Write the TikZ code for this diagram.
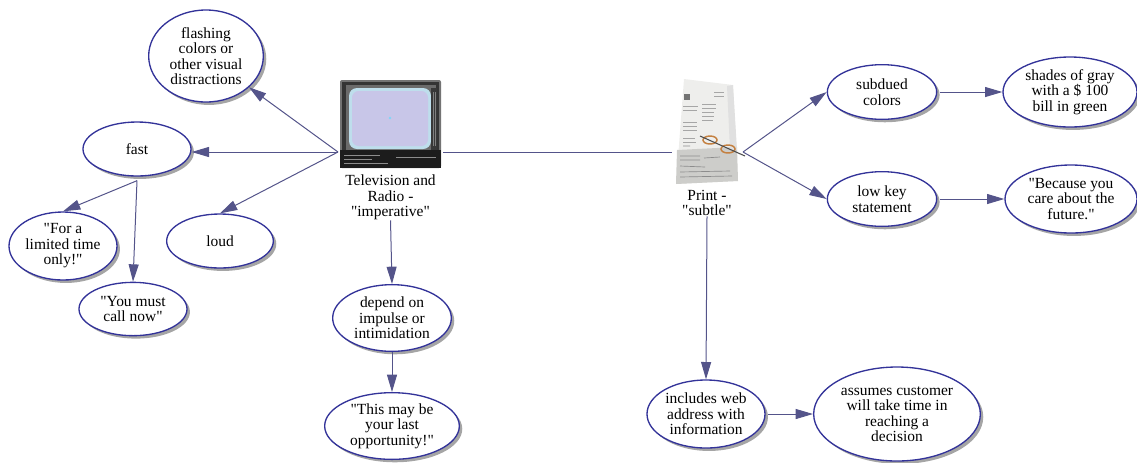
\documentclass[tikz,border=0pt]{standalone}
\usepackage{fontspec}
\setmainfont{Liberation Serif}[Ligatures=TeXOff]
\usetikzlibrary{positioning,shapes.geometric,shadows,arrows.meta}
\definecolor{ellblue}{RGB}{51,51,153}
\definecolor{linkblue}{RGB}{84,84,138}
\definecolor{shadowgray}{RGB}{165,165,165}
\definecolor{tvbody}{RGB}{52,52,52}
\definecolor{tvdark}{RGB}{28,28,28}
\definecolor{screen}{RGB}{200,198,232}
\definecolor{screenedge}{RGB}{190,222,236}
\definecolor{paper}{RGB}{238,238,236}
\definecolor{paperdark}{RGB}{205,205,202}
\definecolor{glassbrown}{RGB}{196,128,64}

\begin{document}
\begin{tikzpicture}[x=0.75pt, y=-0.75pt,
	idea/.style={ellipse, draw=ellblue, line width=1pt, fill=white, align=center, inner sep=0pt,
		minimum width=81pt, minimum height=40.5pt, font=\rmfamily\fontsize{11.6}{11.6}\selectfont,
		drop shadow={shadow xshift=2.2pt, shadow yshift=-2.2pt, fill=shadowgray, opacity=1}},
	caption/.style={align=center, inner sep=0pt, font=\rmfamily\fontsize{11.6}{11.6}\selectfont},
	link/.style={draw=linkblue, line width=0.75pt, -{Triangle[length=13pt, width=7.5pt]}},
	plain/.style={draw=linkblue, line width=0.75pt}]
	\useasboundingbox (0,0) rectangle (1137,462);

	\node (tv) [minimum width=76pt, minimum height=66pt, inner sep=0pt] at (390.5,124) {};
	\fill[black!55, rounded corners=1.5pt] (340,80) rectangle (441,168);
	\fill[tvbody] (342,82) rectangle (439,150);
	\fill[black!58] (346,85) rectangle (436,150);
	\fill[screenedge, rounded corners=6pt] (349,88) rectangle (431,149);
	\fill[screen, rounded corners=5pt] (352,91) rectangle (428,146);
	\fill[black!78] (431,88) rectangle (437,150);
	\draw[black!50, line width=0.4pt] (433,92) -- (433,146) (435,92) -- (435,146);
	\fill[tvdark] (340,150) rectangle (441,168);
	\draw[black!45, line width=0.4pt] (344,155) -- (380,155) (344,159) -- (372,159) (344,163) -- (388,163) (396,157) -- (436,157);
	\fill[cyan!50] (390,118) circle (1.3);
	\node (tvlabel) [caption, below=5pt of tv] {Television and\\Radio -\\"imperative"};

	\node (print) [minimum width=50pt, minimum height=79pt, inner sep=0pt] at (707,131) {};
	\fill[paper] (684,79) -- (733,85) -- (738,181) -- (676,184) -- cycle;
	\fill[paperdark] (677,150) -- (737,147) -- (738,181) -- (676,184) -- cycle;
	\fill[black!12] (727,86) -- (733,85) -- (737,150) -- (730,150) -- cycle;
	\fill[black!55] (684,94) rectangle (690,100);
	\draw[black!35, line width=0.5pt] (683,106) -- (698,106) (683,110) -- (697,110) (702,104) -- (716,104) (702,108) -- (716,108) (702,112) -- (714,112)
		(702,116) -- (714,116) (702,120) -- (713,120) (683,122) -- (697,122) (683,126) -- (697,126) (683,130) -- (697,130) (683,138) -- (695,138)
		(683,142) -- (696,142) (714,92) -- (724,92) (714,96) -- (724,96);
	\draw[black!45, line width=0.5pt] (680,156) -- (700,156) (680,160) -- (700,160) (680,166) -- (705,167) (680,172) -- (730,171) (680,177) -- (732,176)
		(704,158) -- (720,157) (683,146) -- (690,146);
	\draw[glassbrown, line width=1.1pt] (710,140) ellipse (7 and 4) (728,149) ellipse (7 and 4);
	\draw[black!70, line width=0.8pt] (700,136) -- (745,156);
	\node (printlabel) [caption, below=4.5pt of print] {Print -\\"subtle"};

	\coordinate (tvleft) at (338,152);
	\coordinate (tvright) at (443,152);
	\coordinate (printleft) at (672,152);
	\coordinate (printright) at (743,152);

	\node (flashing) [idea, minimum width=86pt, minimum height=69pt] at (206,56) {flashing\\colors or\\other visual\\distractions};
	\node (fast) [idea] at (137,149) {fast};
	\node (limited) [idea, minimum height=51pt] at (63,246) {"For a\\limited time\\only!"};
	\node (loud) [idea, minimum width=80pt] at (220,241) {loud};
	\node (callnow) [idea, minimum height=40pt] at (133,309) {"You must\\call now"};
	\node (depend) [idea, minimum width=89pt, minimum height=50pt] at (392,318) {depend on\\impulse or\\intimidation};
	\node (lastchance) [idea, minimum width=101pt, minimum height=50pt] at (392,426) {"This may be\\your last\\opportunity!"};
	\node (subdued) [idea, minimum width=82pt, minimum height=41pt] at (882,92) {subdued\\colors};
	\node (gray) [idea, minimum width=100.5pt, minimum height=52.5pt] at (1070,92) {shades of gray\\with a \$ 100\\bill in green};
	\node (lowkey) [idea, minimum width=82pt, minimum height=41pt] at (882,199) {low key\\statement};
	\node (future) [idea, minimum width=99pt, minimum height=51pt] at (1071,199) {"Because you\\care about the\\future."};
	\node (web) [idea, minimum width=88.5pt, minimum height=51pt] at (706,414) {includes web\\address with\\information};
	\node (decision) [idea, minimum width=125pt, minimum height=70.5pt] at (897,414) {assumes customer\\will take time in\\reaching a\\decision};

	\draw[link] (tvleft) -- (flashing);
	\draw[link] (tvleft) -- (tvleft -| fast.east);
	\draw[link] (tvleft) -- (loud.north);
	\draw[link] ([yshift=-3pt]fast.south) -- (limited.north);
	\draw[link] ([yshift=-3pt]fast.south) -- (callnow.north);
	\draw[link] (tvlabel.south) -- (depend.north);
	\draw[link] (depend.south) -- (lastchance.north);
	\draw[plain] (tvright) -- (printleft);
	\draw[link] (printright) -- (subdued.west);
	\draw[link] (printright) -- (lowkey.west);
	\draw[link] ([xshift=2pt]subdued.east) -- (gray.west);
	\draw[link] ([xshift=2pt]lowkey.east) -- (future.west);
	\draw[link] (printlabel.south) -- (web.north);
	\draw[link] ([xshift=2pt]web.east) -- (decision.west);
\end{tikzpicture}
\end{document}
